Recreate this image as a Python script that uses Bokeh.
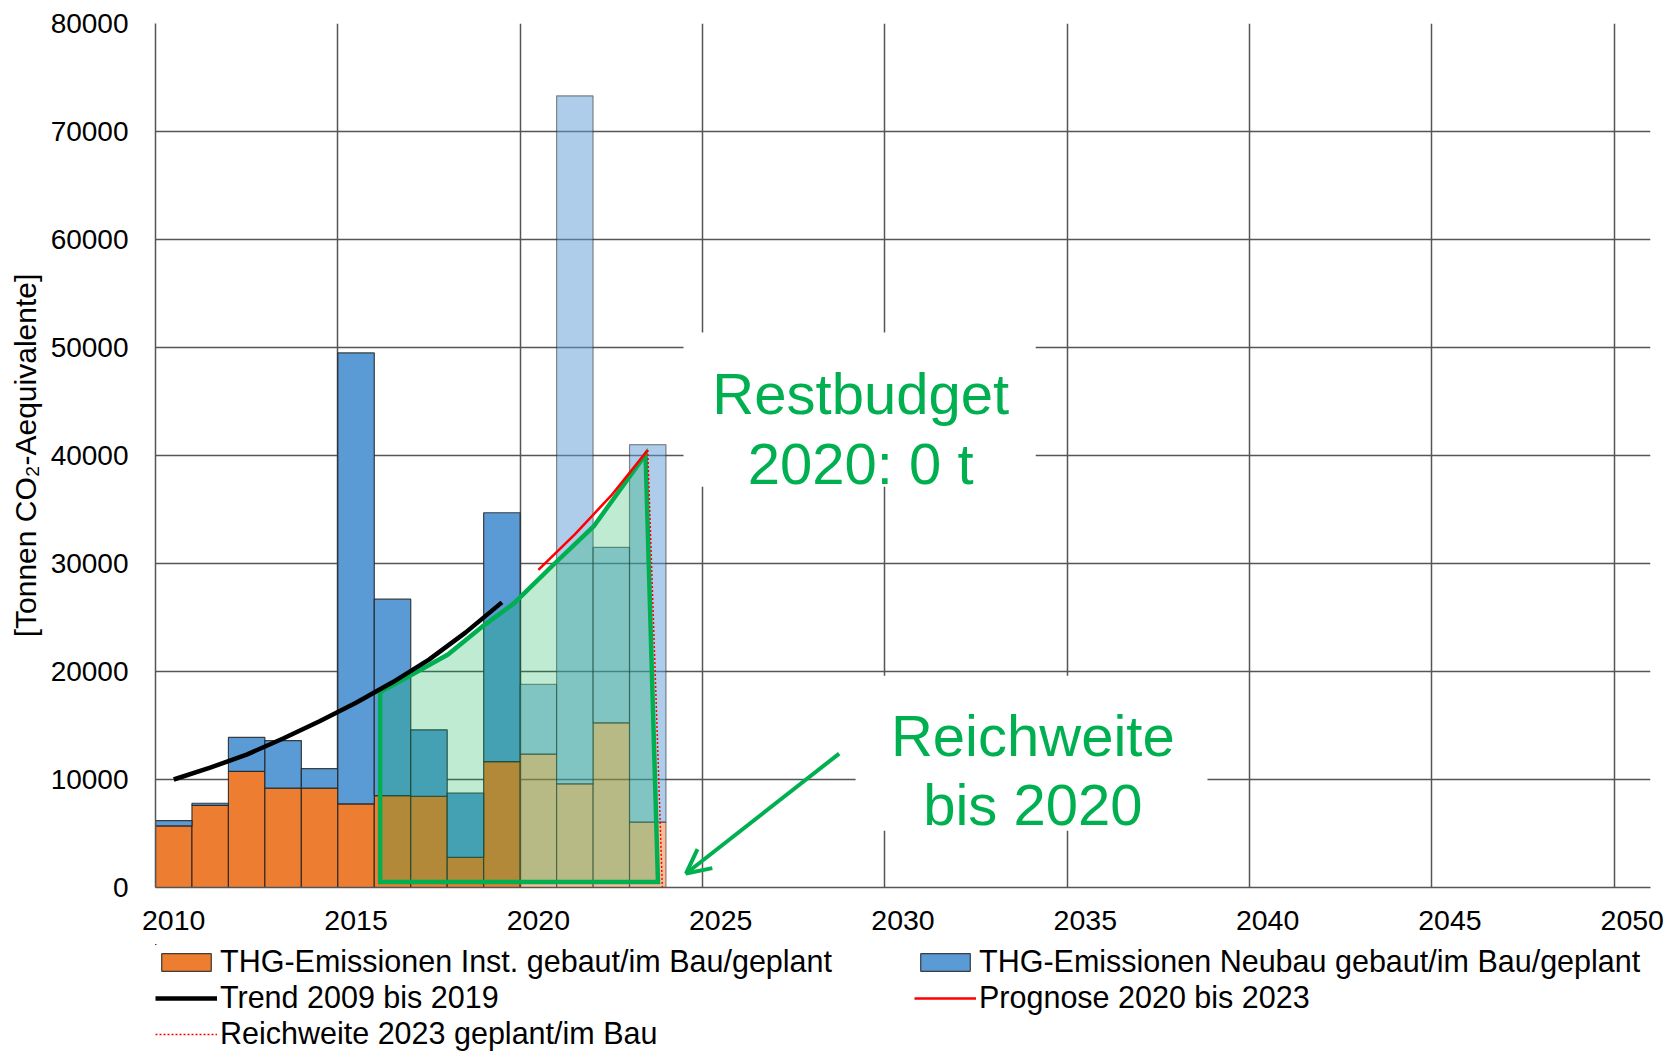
from bokeh.plotting import figure
from bokeh.layouts import column
from bokeh.models import (ColumnDataSource, Range1d, FixedTicker, Legend, LegendItem,
                          Arrow, OpenHead)
from bokeh.core.properties import value
from bokeh.embed import file_html
from bokeh.resources import INLINE

# ---------------- data ----------------
years = [2010, 2011, 2012, 2013, 2014, 2015, 2016, 2017, 2018, 2019, 2020, 2021, 2022, 2023]
inst_emissions = [5700, 7600, 10750, 9200, 9200, 7750, 8500, 8450, 2800, 11650, 12350, 9600, 15250, 6050]
neubau_emissions = [500, 200, 3150, 4400, 1800, 41750, 18200, 6150, 5950, 23050, 6450, 63700, 16250, 34950]
planned = [False] * 10 + [True] * 4

trend_years = [2010, 2011, 2012, 2013, 2014, 2015, 2016, 2017, 2018, 2019]
trend_values = [10000, 11100, 12300, 13800, 15400, 17100, 19000, 21100, 23600, 26400]

prognose_years = [2020, 2021, 2022, 2023]
prognose_values = [29400, 32700, 36300, 40500]

reach_line_x = [2023.5, 2023.9]
reach_line_y = [40500, 0]

reach_poly_x = [2016.16, 2017.04, 2018.02, 2018.99, 2019.82, 2020.99, 2022.02, 2023.44, 2023.78, 2016.16]
reach_poly_y = [18090, 19730, 21570, 24230, 26280, 30140, 33450, 40100, 510, 510]

y_tick_labels = ["0", "10000", "20000", "30000", "40000", "50000", "60000", "70000", "80000"]
x_tick_labels = ["2010", "2015", "2020", "2025", "2030", "2035", "2040", "2045", "2050"]

budget_lines = ["Restbudget", "2020: 0 t"]
reach_lines = ["Reichweite", "bis 2020"]

labels = {
    "inst": "THG-Emissionen Inst. gebaut/im Bau/geplant",
    "neubau": "THG-Emissionen Neubau gebaut/im Bau/geplant",
    "trend": "Trend 2009 bis 2019",
    "prognose": "Prognose 2020 bis 2023",
    "reach": "Reichweite 2023 geplant/im Bau",
}

# ---------------- styling constants ----------------
ORANGE = "#ed7d31"
BLUE = "#5b9bd5"
GREEN = "#00b050"
RED = "#ff0000"
GRID = "#555555"
EDGE = "#222222"
FONT = "Liberation Sans"

BAR_INST = dict(fill_color=ORANGE, line_color=EDGE, line_width=1.2, line_alpha=0.85)
BAR_NEU = dict(fill_color=BLUE, line_color=EDGE, line_width=1.2, line_alpha=0.85)
LINE_TREND = dict(line_color="black", line_width=4.5)
LINE_PROG = dict(line_color=RED, line_width=2.5)
LINE_REACH = dict(line_color=RED, line_width=1.5, line_dash="2 2")

# ---------------- main chart ----------------
p = figure(frame_width=1495, frame_height=864,
           min_border_left=155, min_border_right=29, min_border_top=23, min_border_bottom=57,
           x_range=Range1d(2010, 2051), y_range=Range1d(0, 80000),
           output_backend="svg", toolbar_location=None, background_fill_color="white")
p.outline_line_color = None

# bars (centre of each category = year + 0.5)
def bar_source(mask):
    xs, b0, t0, t1 = [], [], [], []
    for y, a, n, m in zip(years, inst_emissions, neubau_emissions, planned):
        if m == mask:
            xs.append(y + 0.5)
            b0.append(0)
            t0.append(a)
            t1.append(a + n)
    return ColumnDataSource(dict(x=xs, b=b0, m=t0, t=t1))

src_done = bar_source(False)
src_plan = bar_source(True)
trend_x = [y + 0.5 for y in trend_years]
prog_x = [y + 0.5 for y in prognose_years]

p.vbar(x="x", width=1, bottom="b", top="m", source=src_done, **BAR_INST)
p.vbar(x="x", width=1, bottom="m", top="t", source=src_done, **BAR_NEU)
p.vbar(x="x", width=1, bottom="b", top="m", source=src_plan,
       fill_color=ORANGE, fill_alpha=0.5, line_color=EDGE, line_width=1.2, line_alpha=0.5)
p.vbar(x="x", width=1, bottom="m", top="t", source=src_plan,
       fill_color=BLUE, fill_alpha=0.5, line_color=EDGE, line_width=1.2, line_alpha=0.5)

# reach polygon
p.patch(reach_poly_x, reach_poly_y, fill_color=GREEN, fill_alpha=0.25,
        line_color=GREEN, line_width=4.5, line_join="miter")

# lines
p.line(trend_x, trend_values, **LINE_TREND)
p.line(prog_x, prognose_values, **LINE_PROG)
p.line(reach_line_x, reach_line_y, **LINE_REACH)

# white boxes behind annotation text
p.quad(left=[2024.48, 2029.20], right=[2034.14, 2038.85], bottom=[37100, 5250], top=[51390, 19600],
       fill_color="white", line_color=None)

p.text(x=[2029.34, 2029.34], y=[45741, 39259], text=budget_lines,
       text_font=value(FONT), text_font_size=value("58px"), text_color=GREEN,
       text_align="center", text_baseline="alphabetic")
p.text(x=[2034.06, 2034.06], y=[14046, 7657], text=reach_lines,
       text_font=value(FONT), text_font_size=value("58px"), text_color=GREEN,
       text_align="center", text_baseline="alphabetic")

p.add_layout(Arrow(end=OpenHead(size=24, line_color=GREEN, line_width=4),
                   x_start=2028.75, y_start=12400, x_end=2024.55, y_end=1300,
                   line_color=GREEN, line_width=4))

# axes & grid
y_ticks = [int(s) for s in y_tick_labels]
x_years = [int(s) for s in x_tick_labels]
x_ticks = [y + 0.5 for y in x_years]

p.yaxis.ticker = FixedTicker(ticks=y_ticks)
p.yaxis.major_label_overrides = {t: s for t, s in zip(y_ticks, y_tick_labels)}
p.xaxis.ticker = FixedTicker(ticks=x_ticks)
p.xaxis.major_label_overrides = {t: s for t, s in zip(x_ticks, x_tick_labels)}
p.xgrid.ticker = FixedTicker(ticks=x_years)
p.ygrid.ticker = FixedTicker(ticks=y_ticks)

for ax in (p.xaxis[0], p.yaxis[0]):
    ax.major_tick_out = 0
    ax.major_tick_in = 0
    ax.minor_tick_out = 0
    ax.minor_tick_in = 0
    ax.axis_line_color = GRID
    ax.axis_line_width = 1.5
    ax.major_label_text_font = FONT
    ax.major_label_text_color = "black"

p.xaxis.major_label_text_font_size = "28.5px"
p.xaxis.major_label_standoff = 23
p.yaxis.major_label_text_font_size = "28px"
p.yaxis.major_label_standoff = 27
p.yaxis.axis_label = "[Tonnen CO\u2082-Aequivalente]"
p.yaxis.axis_label_text_font = FONT
p.yaxis.axis_label_text_font_size = "30px"
p.yaxis.axis_label_text_font_style = "normal"
p.yaxis.axis_label_text_color = "black"
p.yaxis.axis_label_standoff = 6

p.xgrid.grid_line_color = GRID
p.xgrid.grid_line_width = 1.5
p.ygrid.grid_line_color = GRID
p.ygrid.grid_line_width = 1.5

# ---------------- legend strip below the chart ----------------
# The strip shows the same series on a window that lies well away from them,
# so the series stay out of view and only the legend is visible.
leg = figure(width=1679, height=107,
             min_border_left=155, min_border_right=29, min_border_top=0, min_border_bottom=0,
             x_range=Range1d(2070, 2111), y_range=Range1d(-200000, -100000),
             x_axis_type=None, y_axis_type=None,
             output_backend="svg", toolbar_location=None, background_fill_color="white")
leg.outline_line_color = None
leg.grid.visible = False

k_inst = leg.vbar(x="x", width=1, bottom="b", top="m", source=src_done, **BAR_INST)
k_neu = leg.vbar(x="x", width=1, bottom="m", top="t", source=src_done, **BAR_NEU)
k_trend = leg.line(trend_x, trend_values, **LINE_TREND)
k_prog = leg.line(prog_x, prognose_values, **LINE_PROG)
k_reach = leg.line(reach_line_x, reach_line_y, **LINE_REACH)

legend = Legend(items=[LegendItem(label=labels["inst"], renderers=[k_inst]),
                       LegendItem(label=labels["trend"], renderers=[k_trend]),
                       LegendItem(label=labels["reach"], renderers=[k_reach]),
                       LegendItem(label=labels["neubau"], renderers=[k_neu]),
                       LegendItem(label=labels["prognose"], renderers=[k_prog])],
                orientation="vertical", ncols=2, location="top_left",
                label_text_font=FONT, label_text_font_size="30.5px", label_text_color="black",
                glyph_width=62, glyph_height=22, label_height=30, label_width=693,
                label_standoff=3, spacing=1, padding=0, margin=0,
                border_line_alpha=0, background_fill_alpha=0)
leg.add_layout(legend)

layout = column(p, leg, spacing=0)

open("out.html", "w").write(file_html(layout, INLINE))
